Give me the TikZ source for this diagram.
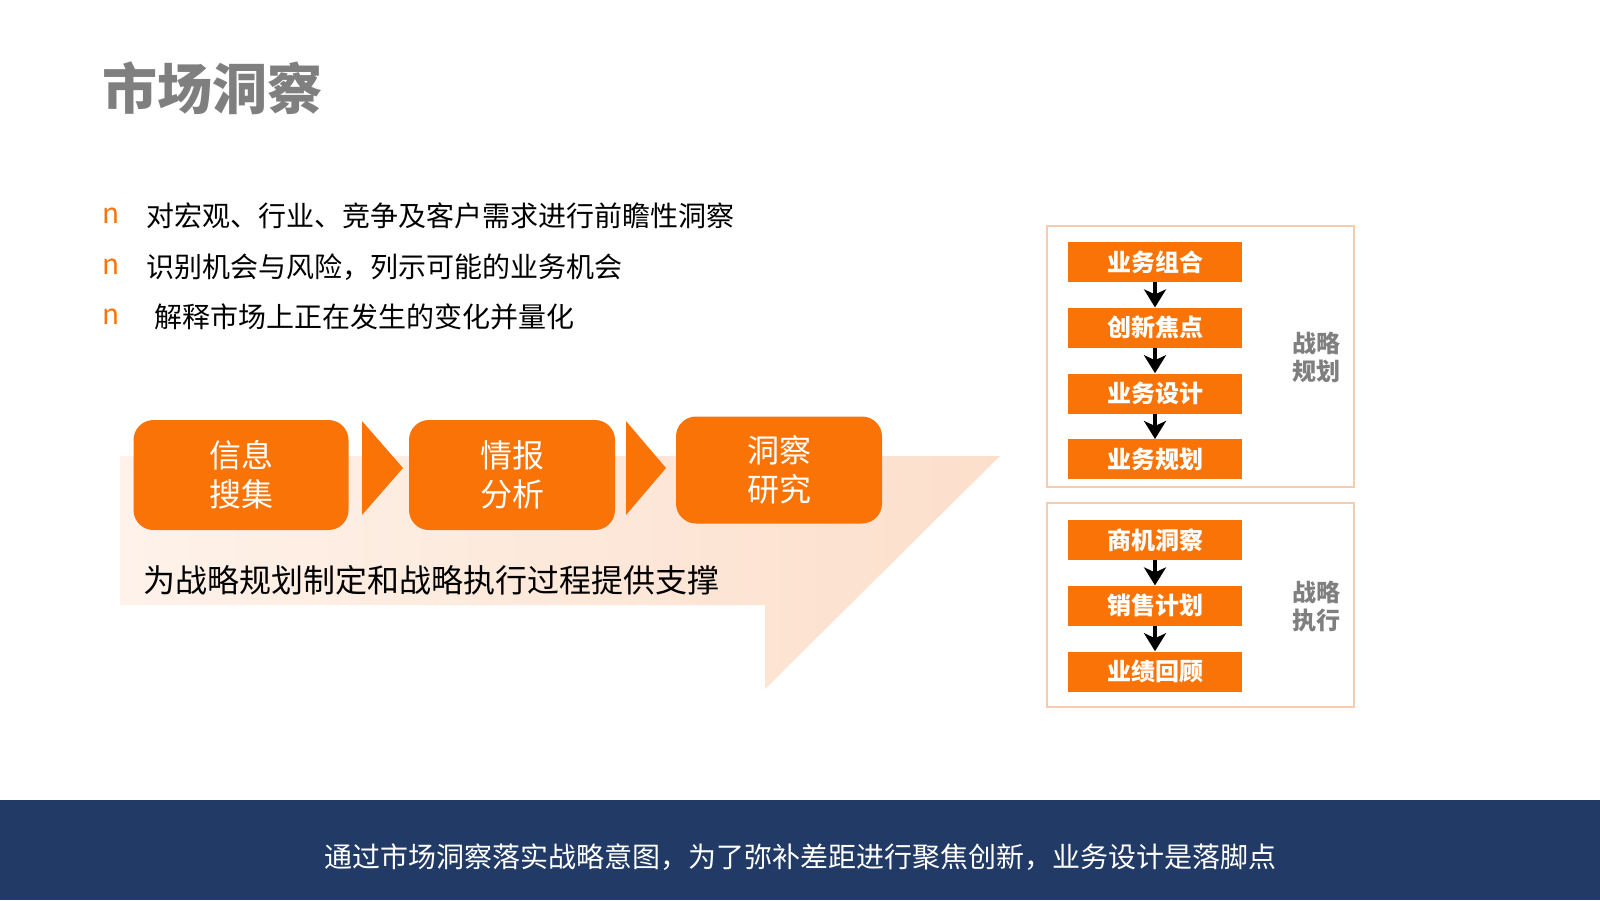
\documentclass[tikz,border=0pt]{standalone}
\usepackage{fontspec}
\setmainfont{Noto Sans CJK SC}
\usetikzlibrary{positioning,arrows.meta}

\definecolor{mkorange}{HTML}{F97306}
\definecolor{mknavy}{HTML}{213A66}
\definecolor{mkgray}{HTML}{7F7F7F}
\definecolor{mkframe}{HTML}{F8CBAD}
\definecolor{mkpeach}{HTML}{FCDFCB}
\definecolor{mkpale}{HTML}{FEF2EA}

\begin{document}
\begin{tikzpicture}[x=0.5pt,y=-0.5pt,
    stage node/.style={fill=mkorange,text=white,rounded corners=10pt,minimum width=106pt,
      minimum height=55pt,align=center,inner sep=0pt,
      font=\fontsize{16pt}{19.5pt}\selectfont},
    step node/.style={fill=mkorange,text=white,minimum width=87pt,minimum height=20pt,
      inner sep=0pt,font=\fontsize{12pt}{14pt}\selectfont\bfseries},
    side label/.style={text=mkgray,align=center,font=\fontsize{12pt}{14pt}\selectfont\bfseries},
    bullet/.style={anchor=west,text=mkorange,inner sep=0pt,font=\fontsize{14pt}{16pt}\selectfont},
    item/.style={anchor=west,inner sep=0pt,font=\fontsize{14pt}{16pt}\selectfont},
    flow/.style={-{Stealth[length=9pt,width=11pt,inset=2.5pt]},line width=1.8pt,black}]

  \useasboundingbox (0,0) rectangle (1600,900);

  % title and bullet list
  \node[anchor=west,inner sep=0pt,text=mkgray,font=\fontsize{27.5pt}{30pt}\selectfont\bfseries] (title) at (102,88) {市场洞察};

  \node[bullet] (b1) at (102,216) {n};
  \node[bullet] (b2) at (102,267) {n};
  \node[bullet] (b3) at (102,317) {n};
  \node[item] (t1) at (146,216) {对宏观、行业、竞争及客户需求进行前瞻性洞察};
  \node[item] (t2) at (146,267) {识别机会与风险，列示可能的业务机会};
  \node[item] (t3) at (154,317) {解释市场上正在发生的变化并量化};

  % big background arrow
  \shade[left color=mkpale,right color=mkpeach]
    (120,456) -- (1000,456) -- (765,689) -- (765,605) -- (120,605) -- cycle;

  \node[stage node,minimum width=107.5pt] (info) at (241,475) {信息\\搜集};
  \node[stage node,minimum width=103pt] (intel) at (512,475) {情报\\分析};
  \node[stage node,minimum width=103pt,minimum height=53.5pt] (insight) at (779,470) {洞察\\研究};

  \fill[mkorange] (362,421) -- (403,468) -- (362,515) -- cycle;
  \fill[mkorange] (626,421) -- (666,468) -- (626,515) -- cycle;

  \node[anchor=west,inner sep=0pt,font=\fontsize{16pt}{18pt}\selectfont] (support) at (143,580)
    {为战略规划制定和战略执行过程提供支撑};

  % strategy planning
  \draw[mkframe,line width=0.8pt] (1047,226) rectangle (1354,487);
  \node[step node] (s1) at (1155,262) {业务组合};
  \node[step node] (s2) [below=12.5pt of s1] {创新焦点};
  \node[step node] (s3) [below=12.5pt of s2] {业务设计};
  \node[step node] (s4) [below=12.5pt of s3] {业务规划};
  \node[side label] (plan) at (1316,357) {战略\\规划};

  \draw[flow] (s1) -- (s2);
  \draw[flow] (s2) -- (s3);
  \draw[flow] (s3) -- (s4);

  % strategy execution
  \draw[mkframe,line width=0.8pt] (1047,503) rectangle (1354,707);
  \node[step node] (e1) at (1155,540) {商机洞察};
  \node[step node] (e2) [below=12.5pt of e1] {销售计划};
  \node[step node] (e3) [below=12.5pt of e2] {业绩回顾};
  \node[side label] (exec) at (1316,606) {战略\\执行};

  \draw[flow] (e1) -- (e2);
  \draw[flow] (e2) -- (e3);

  % bottom banner
  \fill[mknavy] (0,800) rectangle (1600,900);
  \node[text=white,font=\fontsize{14pt}{16pt}\selectfont] (banner) at (800,857)
    {通过市场洞察落实战略意图，为了弥补差距进行聚焦创新，业务设计是落脚点};

\end{tikzpicture}
\end{document}
